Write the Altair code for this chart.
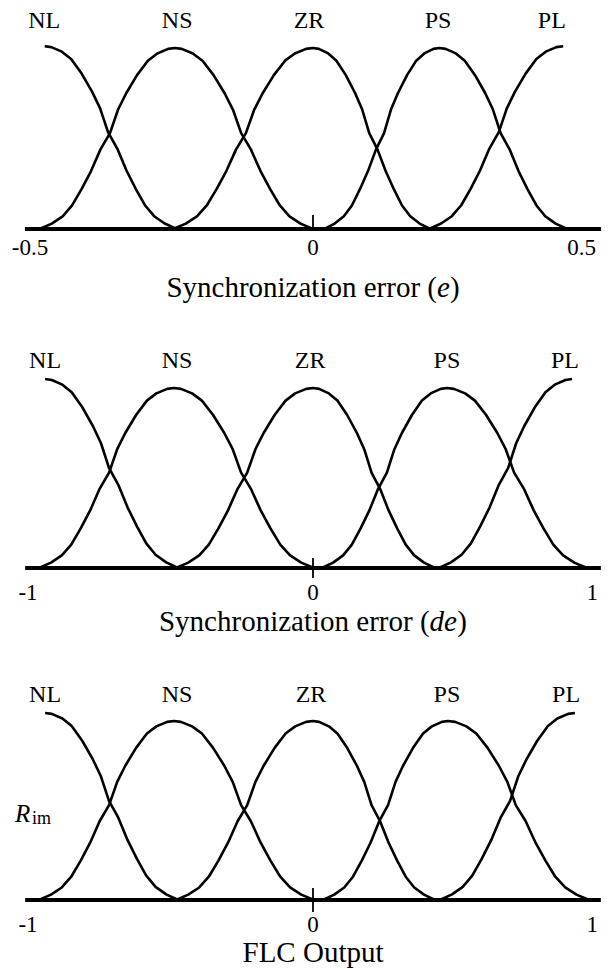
import altair as alt
import pandas as pd

FONT = "Liberation Serif"
WIDTH, HEIGHT = 612, 969

sets = ["NL", "NS", "ZR", "PS", "PL"]

# Shape of one membership function: offset from its centre as a fraction of
# the half-width, and the membership degree there.
bell_offset = [0.00, 0.05, 0.13, 0.20, 0.28, 0.36, 0.42, 0.48, 0.55, 0.62, 0.69, 0.76, 0.83, 0.91, 1.00]
bell_value = [1.00, 0.995, 0.97, 0.93, 0.85, 0.75, 0.66, 0.53, 0.44, 0.32, 0.22, 0.13, 0.07, 0.03, 0.00]

# Synchronization error e
e_centre = [-0.474, -0.244, 0.0, 0.223, 0.442]
e_left = [0.0, 0.239, 0.247, 0.203, 0.237]
e_right = [0.233, 0.244, 0.207, 0.226, 0.0]
e_peak = [1.01, 1.0, 1.0, 1.0, 1.01]
e_label_x = [-0.475, -0.240, -0.007, 0.221, 0.422]
e_ticks = [-0.5, 0.0, 0.5]
e_tick_text = ["-0.5", "0", "0.5"]
e_span = [-0.509, 0.509]

# Synchronization error de
de_centre = [-0.940, -0.488, 0.0, 0.470, 0.909]
de_left = [0.0, 0.474, 0.481, 0.439, 0.467]
de_right = [0.467, 0.491, 0.428, 0.491, 0.0]
de_peak = [1.05, 1.0, 1.0, 1.0, 1.05]
de_label_x = [-0.940, -0.477, -0.010, 0.470, 0.884]
de_ticks = [-1.0, 0.0, 1.0]
de_tick_text = ["-1", "0", "1"]
de_span = [-1.01, 1.01]

# FLC output
out_centre = [-0.940, -0.488, 0.0, 0.474, 0.919]
out_left = [0.0, 0.474, 0.481, 0.439, 0.474]
out_right = [0.467, 0.491, 0.428, 0.495, 0.0]
out_peak = [1.045, 1.0, 1.0, 1.0, 1.045]
out_label_x = [-0.940, -0.477, -0.007, 0.470, 0.888]
out_ticks = [-1.0, 0.0, 1.0]
out_tick_text = ["-1", "0", "1"]
out_span = [-1.01, 1.01]


def curve_table(centre, left, right, peak):
    rows = []
    for name, c, wl, wr, h in zip(sets, centre, left, right, peak):
        seq = 0
        if wl > 0:
            for d, v in zip(reversed(bell_offset), reversed(bell_value)):
                rows.append({"set": name, "seq": seq, "x": c - d * wl, "y": h * v})
                seq += 1
        if wr > 0:
            for d, v in zip(bell_offset, bell_value):
                if wl > 0 and d == 0:
                    continue
                rows.append({"set": name, "seq": seq, "x": c + d * wr, "y": h * v})
                seq += 1
    return pd.DataFrame(rows)


def panel(centre, left, right, peak, label_x, ticks, tick_text, span,
          frame, zero_tick, label_dy, tick_dy, title_parts, title_dy, extra=()):
    zero_px, px_x, axis_px, px_y = frame
    xs = alt.Scale(domain=[-zero_px / px_x, (WIDTH - zero_px) / px_x], nice=False, zero=False)
    ys = alt.Scale(domain=[-(HEIGHT - axis_px) / px_y, axis_px / px_y], nice=False, zero=False)

    def X(field="x"):
        return alt.X(f"{field}:Q", scale=xs, axis=None)

    def Y(field="y"):
        return alt.Y(f"{field}:Q", scale=ys, axis=None)

    layers = []
    curves = curve_table(centre, left, right, peak)
    layers.append(
        alt.Chart(curves).mark_line(color="black", strokeWidth=2.6, strokeJoin="round")
        .encode(x=X(), y=Y(), detail="set:N", order="seq:Q")
    )
    layers.append(
        alt.Chart(pd.DataFrame({"x": [span[0]], "x2": [span[1]], "y": [0.0]}))
        .mark_rule(color="black", strokeWidth=3.8)
        .encode(x=X(), x2="x2:Q", y=Y())
    )
    layers.append(
        alt.Chart(pd.DataFrame({"x": [0.0], "y": [zero_tick[0]], "y2": [zero_tick[1]]}))
        .mark_rule(color="black", strokeWidth=1.8)
        .encode(x=X(), y=Y(), y2="y2:Q")
    )
    layers.append(
        alt.Chart(pd.DataFrame({"x": label_x, "y": [1.0] * len(sets), "t": sets}))
        .mark_text(font=FONT, fontSize=24, color="black", align="center",
                   baseline="alphabetic", dy=label_dy)
        .encode(x=X(), y=Y(), text="t:N")
    )
    tick_df = pd.DataFrame({"x": ticks, "y": [0.0] * len(ticks), "t": tick_text})
    layers.append(
        alt.Chart(tick_df.iloc[:-1]).mark_text(font=FONT, fontSize=23, color="black",
                                               align="center", baseline="alphabetic", dy=tick_dy)
        .encode(x=X(), y=Y(), text="t:N")
    )
    layers.append(
        alt.Chart(tick_df.iloc[-1:]).mark_text(font=FONT, fontSize=23, color="black",
                                               align="right", baseline="alphabetic", dy=tick_dy)
        .encode(x=X(), y=Y(), text="t:N")
    )
    for text, x, align, italic in title_parts:
        layers.append(
            alt.Chart(pd.DataFrame({"x": [x], "y": [0.0], "t": [text]}))
            .mark_text(font=FONT, fontSize=29, color="black", align=align,
                       baseline="alphabetic", dy=title_dy,
                       fontStyle="italic" if italic else "normal")
            .encode(x=X(), y=Y(), text="t:N")
        )
    for text, x, y, size, dy, italic in extra:
        layers.append(
            alt.Chart(pd.DataFrame({"x": [x], "y": [y], "t": [text]}))
            .mark_text(font=FONT, fontSize=size, color="black", align="left",
                       baseline="alphabetic", dy=dy,
                       fontStyle="italic" if italic else "normal")
            .encode(x=X(), y=Y(), text="t:N")
        )
    return alt.layer(*layers)


p_e = panel(
    e_centre, e_left, e_right, e_peak, e_label_x, e_ticks, e_tick_text, e_span,
    frame=(313, 566, 229, 181), zero_tick=(0.0, 0.077), label_dy=-20, tick_dy=26,
    title_parts=[("Synchronization error (", 0.219, "right", False),
                 ("e", 0.219, "left", True),
                 (")", 0.242, "left", False)],
    title_dy=68,
)

p_de = panel(
    de_centre, de_left, de_right, de_peak, de_label_x, de_ticks, de_tick_text, de_span,
    frame=(313, 285, 568, 180), zero_tick=(-0.056, 0.056), label_dy=-20, tick_dy=32,
    title_parts=[("Synchronization error (", 0.409, "right", False),
                 ("de", 0.409, "left", True),
                 (")", 0.506, "left", False)],
    title_dy=63,
)

p_out = panel(
    out_centre, out_left, out_right, out_peak, out_label_x, out_ticks, out_tick_text, out_span,
    frame=(313, 285, 900, 179), zero_tick=(-0.067, 0.067), label_dy=-19, tick_dy=32,
    title_parts=[("FLC Output", 0.0, "center", False)],
    title_dy=62,
    extra=[("R", -1.046, 0.436, 25, 0, True), ("im", -0.986, 0.436, 18, 2, False)],
)

chart = (
    alt.layer(p_e, p_de, p_out)
    .resolve_scale(x="independent", y="independent")
    .properties(width=WIDTH, height=HEIGHT, padding=0,
                autosize=alt.AutoSizeParams(type="fit", contains="padding"),
                background="white")
    .configure_view(stroke=None)
)

chart.save("out.html", embed_options={"renderer": "svg", "actions": False})
